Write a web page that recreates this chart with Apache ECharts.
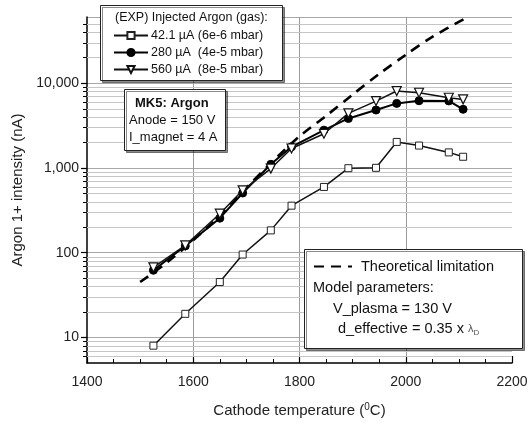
<!DOCTYPE html>
<html><head><meta charset="utf-8">
<script src="https://cdn.jsdelivr.net/npm/echarts@6/dist/echarts.min.js"></script>
<style>html,body{margin:0;padding:0;background:#fff}#c{width:531px;height:428px}</style>
</head><body><div id="c"></div>
<script>
const temps = [1525, 1585, 1650, 1693, 1746, 1785, 1846, 1892, 1944, 1983, 2025, 2081, 2108];
const argon42 = [8, 19, 45, 95, 183, 358, 595, 990, 1000, 2020, 1830, 1520, 1350];
const argon280 = [62, 120, 255, 505, 1100, 1770, 2780, 3820, 4800, 5750, 6180, 6150, 4900];
const argon560 = [67, 122, 288, 543, 980, 1690, 2520, 4390, 6120, 8040, 7680, 6700, 6410];
const theoryTemps = [1500, 1550, 1600, 1650, 1700, 1750, 1800, 1850, 1900, 1950, 2000, 2050, 2110];
const theoryVals = [45, 76, 140, 270, 580, 1200, 2350, 4100, 7300, 12800, 21500, 35000, 57000];
const minorGridVals = [6, 7, 8, 9, 20, 30, 40, 50, 60, 70, 80, 90, 200, 300, 400, 500, 600, 700, 800, 900,
  2000, 3000, 4000, 5000, 6000, 7000, 8000, 9000, 20000, 30000, 40000, 50000];
const xMin = 1400, xMax = 2200, xStep = 200;
const yMin = 5, yMax = 60000;
const seriesNames = ['42.1 \u00b5A (6e-6 mbar)', '280 \u00b5A  (4e-5 mbar)', '560 \u00b5A  (8e-5 mbar)'];
const theoryName = 'Theoretical limitation';

const FONT = '"Liberation Sans", Arial, Helvetica, sans-serif';
const pair = (xs, ys) => xs.map((x, i) => [x, ys[i]]);

const chart = echarts.init(document.getElementById('c'), null, {renderer: 'canvas'});
chart.setOption({
  backgroundColor: '#fff',
  animation: false,
  textStyle: {fontFamily: FONT},
  grid: {left: 87, top: 17, right: 19, bottom: 65},
  xAxis: {
    type: 'value', min: xMin, max: xMax, interval: xStep,
    name: 'Cathode temperature ({sup|0}C)', nameLocation: 'middle', nameGap: 39,
    nameTextStyle: {fontSize: 15, color: '#222', fontFamily: FONT,
      rich: {sup: {fontSize: 10, verticalAlign: 'top', padding: [0, 0, 8, 0], color: '#222'}}},
    axisLine: {lineStyle: {color: '#000', width: 1.5}},
    axisTick: {inside: true, length: 7, lineStyle: {color: '#000', width: 1.2}},
    minorTick: {show: true, splitNumber: 4, length: 4, lineStyle: {color: '#000', width: 1}},
    axisLabel: {fontSize: 14, color: '#222', margin: 12, fontFamily: FONT, formatter: v => String(Math.round(v))},
    splitLine: {show: true, showMinLine: false, showMaxLine: false, lineStyle: {color: '#9a9a9a', width: 1}}
  },
  yAxis: {
    type: 'log', logBase: 10, min: yMin, max: yMax,
    name: 'Argon 1+ intensity (nA)', nameLocation: 'middle', nameGap: 57, nameRotate: 90,
    nameTextStyle: {fontSize: 15, color: '#222', fontFamily: FONT},
    axisLine: {show: true, lineStyle: {color: '#000', width: 1.5}},
    axisTick: {show: true, inside: false, length: 6, lineStyle: {color: '#000', width: 1.2}},
    axisLabel: {fontSize: 14, color: '#222', margin: 8, fontFamily: FONT, showMinLabel: false, showMaxLabel: false,
      formatter: v => Math.round(v).toLocaleString('en-US')},
    splitLine: {show: true, showMinLine: false, lineStyle: {color: '#a8a8a8', width: 1}}
  },
  legend: [{
    data: seriesNames, orient: 'vertical', left: 113, top: 29, padding: 0, itemWidth: 34, itemHeight: 9, itemGap: 4,
    textStyle: {fontSize: 12.5, color: '#111', fontFamily: FONT, padding: [0, 0, 0, -2]}, z: 20
  }, {
    data: [theoryName], left: 313, top: 259, padding: 0, itemWidth: 38, itemHeight: 10,
    itemStyle: {opacity: 0},
    textStyle: {fontSize: 14.5, color: '#111', fontFamily: FONT, padding: [0, 0, 0, 4]}, z: 20
  }],
  graphic: [
    {type: 'rect', z: 15, shape: {x: 100.5, y: 5.5, width: 182, height: 75},
      style: {fill: '#fff', stroke: '#222', lineWidth: 1, shadowColor: 'rgba(0,0,0,0.45)', shadowOffsetX: 2, shadowOffsetY: 2}},
    {type: 'text', z: 21, x: 115, y: 18, style: {text: '(EXP) Injected Argon (gas):', fontSize: 12.5, fontFamily: FONT, fill: '#111', verticalAlign: 'middle'}},
    {type: 'rect', z: 15, shape: {x: 124.5, y: 89.5, width: 101, height: 61},
      style: {fill: '#fff', stroke: '#222', lineWidth: 1, shadowColor: 'rgba(0,0,0,0.45)', shadowOffsetX: 2, shadowOffsetY: 2}},
    {type: 'text', z: 21, x: 135, y: 103, style: {text: 'MK5: Argon', fontSize: 13, fontWeight: 'bold', fontFamily: FONT, fill: '#111', verticalAlign: 'middle'}},
    {type: 'text', z: 21, x: 129, y: 120, style: {text: 'Anode = 150 V', fontSize: 13, fontFamily: FONT, fill: '#111', verticalAlign: 'middle'}},
    {type: 'text', z: 21, x: 129, y: 137, style: {text: 'I_magnet = 4 A', fontSize: 13, fontFamily: FONT, fill: '#111', verticalAlign: 'middle'}},
    {type: 'rect', z: 15, shape: {x: 304.5, y: 249.5, width: 218, height: 99},
      style: {fill: '#fff', stroke: '#222', lineWidth: 1, shadowColor: 'rgba(0,0,0,0.45)', shadowOffsetX: 2, shadowOffsetY: 2}},
    {type: 'text', z: 21, x: 313, y: 288, style: {text: 'Model parameters:', fontSize: 14.5, fontFamily: FONT, fill: '#111', verticalAlign: 'middle'}},
    {type: 'text', z: 21, x: 333, y: 309, style: {text: 'V_plasma = 130 V', fontSize: 14.5, fontFamily: FONT, fill: '#111', verticalAlign: 'middle'}},
    {type: 'text', z: 21, x: 338, y: 329, style: {text: 'd_effective = 0.35 x {l|\u03bb}{s|D}', fontSize: 14.5, fontFamily: FONT, fill: '#111', verticalAlign: 'middle',
      rich: {l: {fontSize: 11, fontFamily: FONT, fill: '#555', padding: [0, 0, 0, 0]}, s: {fontSize: 8, fontFamily: FONT, fill: '#555', padding: [8, 0, 0, 0]}}}}
  ],
  series: [
    {
      type: 'custom', name: 'minorGrid', silent: true, z: 1, clip: false,
      data: minorGridVals.map(v => [xMin, v]),
      renderItem: (params, api) => {
        const v = api.value(1);
        const p0 = api.coord([xMin, v]);
        const p1 = api.coord([xMax, v]);
        const y = Math.round(p0[1]) + 0.5;
        return {type: 'group', children: [
          {type: 'line', shape: {x1: p0[0], y1: y, x2: p1[0], y2: y}, style: {stroke: '#c6c6c6', lineWidth: 1}},
          {type: 'line', shape: {x1: p0[0] - 4, y1: y, x2: p0[0], y2: y}, style: {stroke: '#000', lineWidth: 1}}
        ]};
      }
    },
    {
      type: 'line', name: theoryName, data: pair(theoryTemps, theoryVals), symbol: 'none', smooth: 0.3, z: 3,
      lineStyle: {color: '#000', width: 2.6, type: [10, 7]}, itemStyle: {color: '#000'}
    },
    {
      type: 'line', name: seriesNames[0], data: pair(temps, argon42), symbol: 'rect', symbolSize: 7, z: 4,
      lineStyle: {color: '#111', width: 1.5}, itemStyle: {color: '#fff', borderColor: '#222', borderWidth: 1}
    },
    {
      type: 'line', name: seriesNames[1], data: pair(temps, argon280), symbol: 'circle', symbolSize: 8, z: 5,
      lineStyle: {color: '#000', width: 2}, itemStyle: {color: '#000', borderColor: '#000', borderWidth: 1}
    },
    {
      type: 'line', name: seriesNames[2], data: pair(temps, argon560), symbol: 'triangle', symbolSize: 9, symbolRotate: 180, z: 6,
      lineStyle: {color: '#111', width: 1.5}, itemStyle: {color: '#fff', borderColor: '#111', borderWidth: 1.2}
    }
  ]
});
</script>
</body></html>
